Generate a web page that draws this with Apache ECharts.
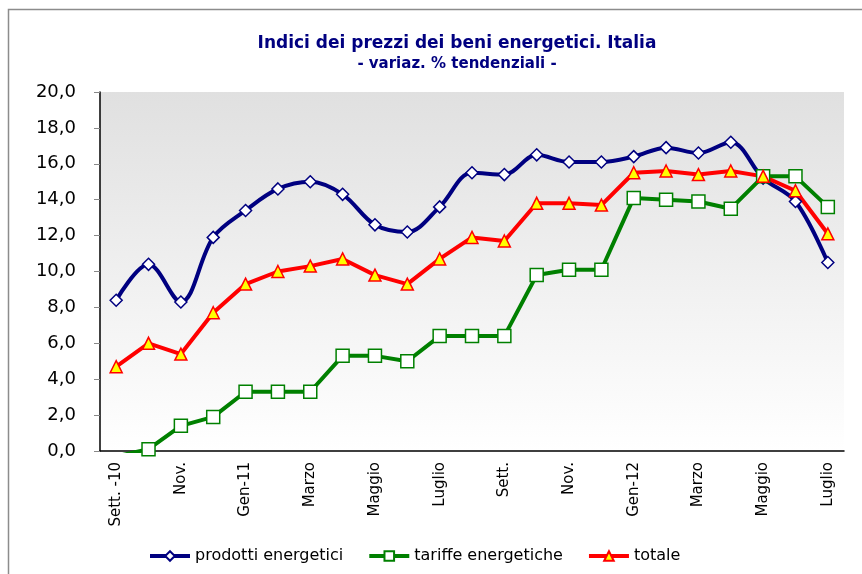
<!DOCTYPE html>
<html>
<head>
<meta charset="utf-8">
<script src="https://cdn.jsdelivr.net/npm/echarts@6/dist/echarts.min.js"></script>
<style>
  html, body { margin: 0; padding: 0; background: #fff; }
  #chart { width: 862px; height: 574px; }
</style>
</head>
<body>
<div id="chart"></div>
<script>
// mesi: set. 2010 - lug. 2012
const categories = [
  "Sett. -10", "Ott.", "Nov.", "Dic.", "Gen-11", "Feb.", "Marzo", "Aprile",
  "Maggio", "Giugno", "Luglio", "Agosto", "Sett.", "Ott.", "Nov.", "Dic.",
  "Gen-12", "Feb.", "Marzo", "Aprile", "Maggio", "Giugno", "Luglio"
]
const prodottiEnergetici = [
  8.4, 10.4, 8.3, 11.9, 13.4, 14.6, 15.0, 14.3, 12.6, 12.2, 13.6, 15.5,
  15.4, 16.5, 16.1, 16.1, 16.4, 16.9, 16.6, 17.2, 15.2, 13.9, 10.5
]
const tariffeEnergetiche = [
  -0.3, 0.1, 1.4, 1.9, 3.3, 3.3, 3.3, 5.3, 5.3, 5.0, 6.4, 6.4,
  6.4, 9.8, 10.1, 10.1, 14.1, 14.0, 13.9, 13.5, 15.3, 15.3, 13.6
]
const totale = [
  4.7, 6.0, 5.4, 7.7, 9.3, 10.0, 10.3, 10.7, 9.8, 9.3, 10.7, 11.9,
  11.7, 13.8, 13.8, 13.7, 15.5, 15.6, 15.4, 15.6, 15.3, 14.5, 12.1
]

const FONT = "'DejaVu Sans', sans-serif"

const chart = echarts.init(document.getElementById("chart"))

chart.setOption({
  animation: false,
  backgroundColor: "#ffffff",
  graphic: [
    {
      type: "polyline",
      shape: { points: [[8.5, 600], [8.5, 9.5], [870, 9.5]] },
      style: { stroke: "#8c8c8c", lineWidth: 1.5, fill: null },
      silent: true
    }
  ],
  title: {
    text: "Indici dei prezzi dei beni energetici. Italia",
    subtext: "- variaz. % tendenziali -",
    left: 452,
    textAlign: "center",
    top: 30,
    itemGap: 5,
    textStyle: { fontFamily: FONT, fontSize: 17, fontWeight: "bold", color: "#000080" },
    subtextStyle: { fontFamily: FONT, fontSize: 15, fontWeight: "bold", color: "#000080" }
  },
  grid: {
    left: 100,
    right: 18,
    top: 92,
    bottom: 123,
    show: true,
    borderWidth: 0,
    backgroundColor: new echarts.graphic.LinearGradient(0, 0, 0, 1, [
      { offset: 0, color: "#e0e0e0" },
      { offset: 1, color: "#ffffff" }
    ])
  },
  legend: {
    left: 143,
    top: 543,
    itemWidth: 40,
    itemHeight: 12,
    itemGap: 24,
    textStyle: { fontFamily: FONT, fontSize: 16, color: "#000" },
    data: [
      { name: "prodotti energetici", lineStyle: { width: 4 } },
      { name: "tariffe energetiche", lineStyle: { width: 4 } },
      { name: "totale", lineStyle: { width: 4 } }
    ]
  },
  xAxis: {
    type: "category",
    data: categories,
    boundaryGap: true,
    axisLine: { lineStyle: { color: "#000", width: 1.5 } },
    axisTick: { interval: 0, length: 6, lineStyle: { color: "#888" } },
    axisLabel: {
      interval: 1,
      rotate: 90,
      margin: 11,
      fontFamily: FONT,
      fontSize: 15,
      color: "#000"
    }
  },
  yAxis: {
    type: "value",
    min: 0,
    max: 20,
    interval: 2,
    splitLine: { show: false },
    axisLine: { show: true, lineStyle: { color: "#000", width: 1.5 } },
    axisTick: { show: true, length: 6, lineStyle: { color: "#888" } },
    axisLabel: {
      margin: 24,
      fontFamily: FONT,
      fontSize: 18,
      color: "#000",
      formatter: v => v.toFixed(1).replace(".", ",")
    }
  },
  series: [
    {
      name: "prodotti energetici",
      type: "line",
      data: prodottiEnergetici,
      smooth: 0.35,
      symbol: "diamond",
      symbolSize: 12,
      lineStyle: { color: "#000080", width: 4 },
      itemStyle: { color: "#ffffff", borderColor: "#000080", borderWidth: 1.5 }
    },
    {
      name: "tariffe energetiche",
      type: "line",
      data: tariffeEnergetiche,
      symbol: "rect",
      symbolSize: 13,
      lineStyle: { color: "#008000", width: 4 },
      itemStyle: { color: "#ffffff", borderColor: "#008000", borderWidth: 1.5 }
    },
    {
      name: "totale",
      type: "line",
      data: totale,
      symbol: "triangle",
      symbolSize: 12,
      lineStyle: { color: "#ff0000", width: 4 },
      itemStyle: { color: "#ffff00", borderColor: "#ff0000", borderWidth: 1.5 }
    }
  ]
})
</script>
</body>
</html>
